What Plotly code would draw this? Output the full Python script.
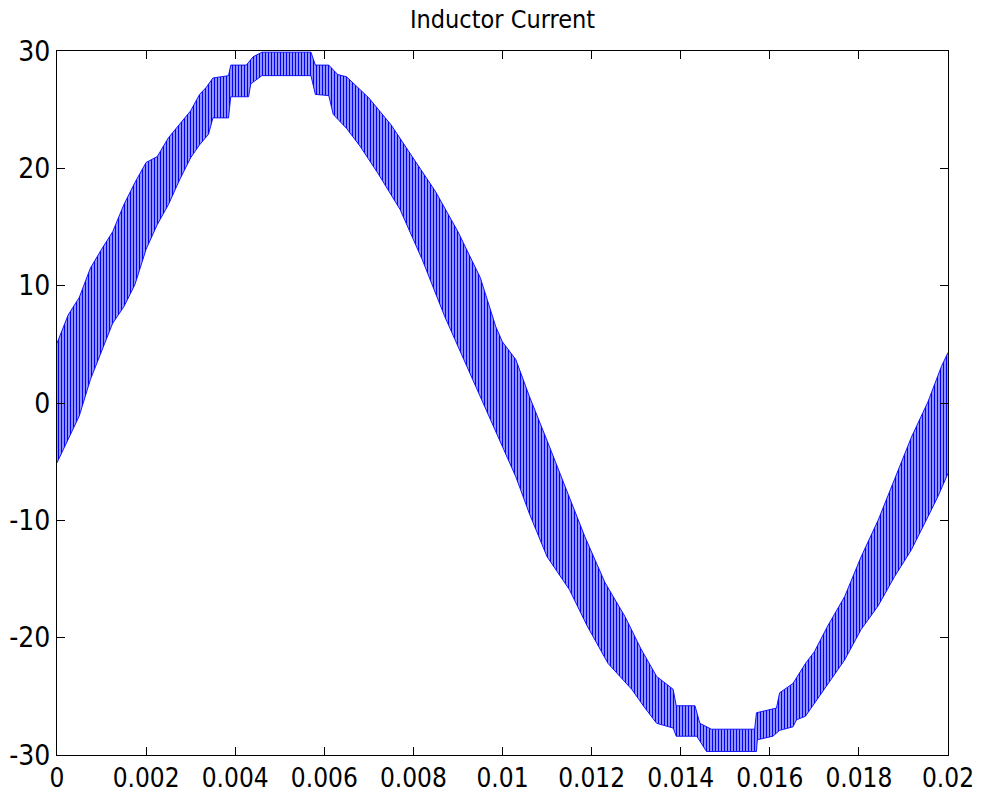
import plotly.graph_objects as go

# Upper envelope of the PWM ripple band (time in s, current in A)
t_upper = [0, 0.00025, 0.0005, 0.00075, 0.001, 0.00125, 0.0015, 0.00175, 0.002, 0.00225,
           0.0025, 0.00275, 0.003, 0.0032, 0.00335, 0.0035, 0.00385, 0.0039, 0.00425, 0.0044,
           0.0046, 0.0057, 0.0058, 0.0061, 0.0063, 0.0065, 0.007, 0.0075, 0.008, 0.0085,
           0.009, 0.0095, 0.00985, 0.01, 0.0103, 0.0106, 0.011, 0.0114, 0.01185, 0.0123,
           0.01275, 0.0131, 0.01346, 0.01383, 0.0139, 0.01432, 0.01443, 0.01469, 0.01566, 0.0157,
           0.01615, 0.01622, 0.01652, 0.0168, 0.017, 0.0173, 0.01768, 0.01805, 0.01843, 0.0188,
           0.01918, 0.01955, 0.01985, 0.02]
upper = [5.1, 7.5, 9.0, 11.5, 13.1, 14.6, 16.9, 18.8, 20.5, 21.0,
         22.6, 23.8, 24.9, 26.3, 26.9, 27.7, 27.9, 28.8, 28.8, 29.5,
         29.9, 29.9, 28.8, 28.8, 28.0, 27.8, 26.0, 23.7, 20.8, 18.0,
         14.6, 10.7, 6.5, 5.2, 3.7, 0.6, -3.2, -7.1, -11.4, -15.3,
         -18.2, -20.9, -23.3, -24.4, -25.8, -25.8, -27.3, -27.8, -27.8, -26.4,
         -26.0, -24.7, -23.9, -22.2, -21.2, -19.0, -16.5, -13.1, -10.0, -6.5,
         -2.9, 0.1, 3.1, 4.3]

# Lower envelope of the ripple band
t_lower = [0, 0.00025, 0.0005, 0.00075, 0.001, 0.00125, 0.0015, 0.00175, 0.002, 0.00225,
           0.0025, 0.00275, 0.003, 0.0032, 0.0034, 0.0035, 0.00385, 0.0039, 0.0043, 0.00435,
           0.0046, 0.0057, 0.0058, 0.0061, 0.0062, 0.0065, 0.0068, 0.0072, 0.0077, 0.0082,
           0.0087, 0.0092, 0.0097, 0.01, 0.0103, 0.0106, 0.011, 0.0115, 0.0119, 0.01237,
           0.0129, 0.01318, 0.01346, 0.01383, 0.0139, 0.01436, 0.01458, 0.0157, 0.01572, 0.01607,
           0.01622, 0.01652, 0.0166, 0.0168, 0.017, 0.0173, 0.01768, 0.01805, 0.01843, 0.0188,
           0.01918, 0.01955, 0.01977, 0.02]
lower = [-5.1, -3.1, -1.1, 2.0, 4.4, 6.8, 8.2, 10.1, 13.1, 15.2,
         16.9, 19.0, 20.9, 22.0, 22.9, 24.3, 24.3, 26.1, 26.1, 27.2,
         27.9, 27.9, 26.3, 26.2, 24.6, 23.4, 21.9, 19.6, 16.5, 12.2,
         7.4, 3.1, -1.1, -3.8, -6.3, -9.4, -13.1, -15.9, -19.0, -22.2,
         -24.4, -25.9, -27.3, -27.7, -28.4, -28.4, -29.7, -29.7, -28.7, -28.4,
         -27.9, -27.6, -27.0, -26.7, -25.6, -23.9, -21.9, -19.3, -17.3, -14.8,
         -12.5, -9.7, -8.0, -6.0]

x_ticks = [0, 0.002, 0.004, 0.006, 0.008, 0.01, 0.012, 0.014, 0.016, 0.018, 0.02]
x_labels = ["0", "0.002", "0.004", "0.006", "0.008", "0.01", "0.012", "0.014", "0.016", "0.018", "0.02"]
y_ticks = [-30, -20, -10, 0, 10, 20, 30]
y_labels = ["-30", "-20", "-10", "0", "10", "20", "30"]

BLUE = "#0000ff"
FONT = "DejaVu Sans Condensed, Liberation Sans Narrow, Arial Narrow, Liberation Sans, Arial, sans-serif"

fig = go.Figure()
fig.add_trace(go.Scatter(x=t_lower, y=lower, mode="lines",
                         line=dict(color=BLUE, width=0.9), showlegend=False, hoverinfo="skip"))
fig.add_trace(go.Scatter(x=t_upper, y=upper, mode="lines",
                         line=dict(color=BLUE, width=0.9), fill="tonexty",
                         fillcolor="rgba(0,0,0,0)",
                         fillpattern=dict(shape="|", fgcolor=BLUE, bgcolor="white",
                                          size=3, solidity=0.62, fillmode="replace"),
                         showlegend=False, hoverinfo="skip"))

axis_common = dict(showline=True, linecolor="black", linewidth=1, mirror="allticks",
                   ticks="inside", ticklen=8, tickwidth=1, tickcolor="black",
                   showgrid=False, zeroline=False, automargin=False)

fig.update_layout(
    width=987, height=797,
    paper_bgcolor="white", plot_bgcolor="white",
    margin=dict(l=57, r=39, t=51, b=42),
    title=dict(text="Inductor Current", x=0.5, xref="paper", xanchor="center",
               y=1 - 19 / 797, yref="container", yanchor="middle",
               font=dict(family=FONT, size=25, color="black")),
    xaxis=dict(range=[0, 0.02], tickvals=x_ticks, ticktext=x_labels,
               tickfont=dict(family=FONT, size=26, color="black"), **axis_common),
    yaxis=dict(range=[-30, 30], tickvals=y_ticks, ticktext=y_labels,
               tickfont=dict(family=FONT, size=28, color="black"), **axis_common),
)

fig.write_html("out.html")
